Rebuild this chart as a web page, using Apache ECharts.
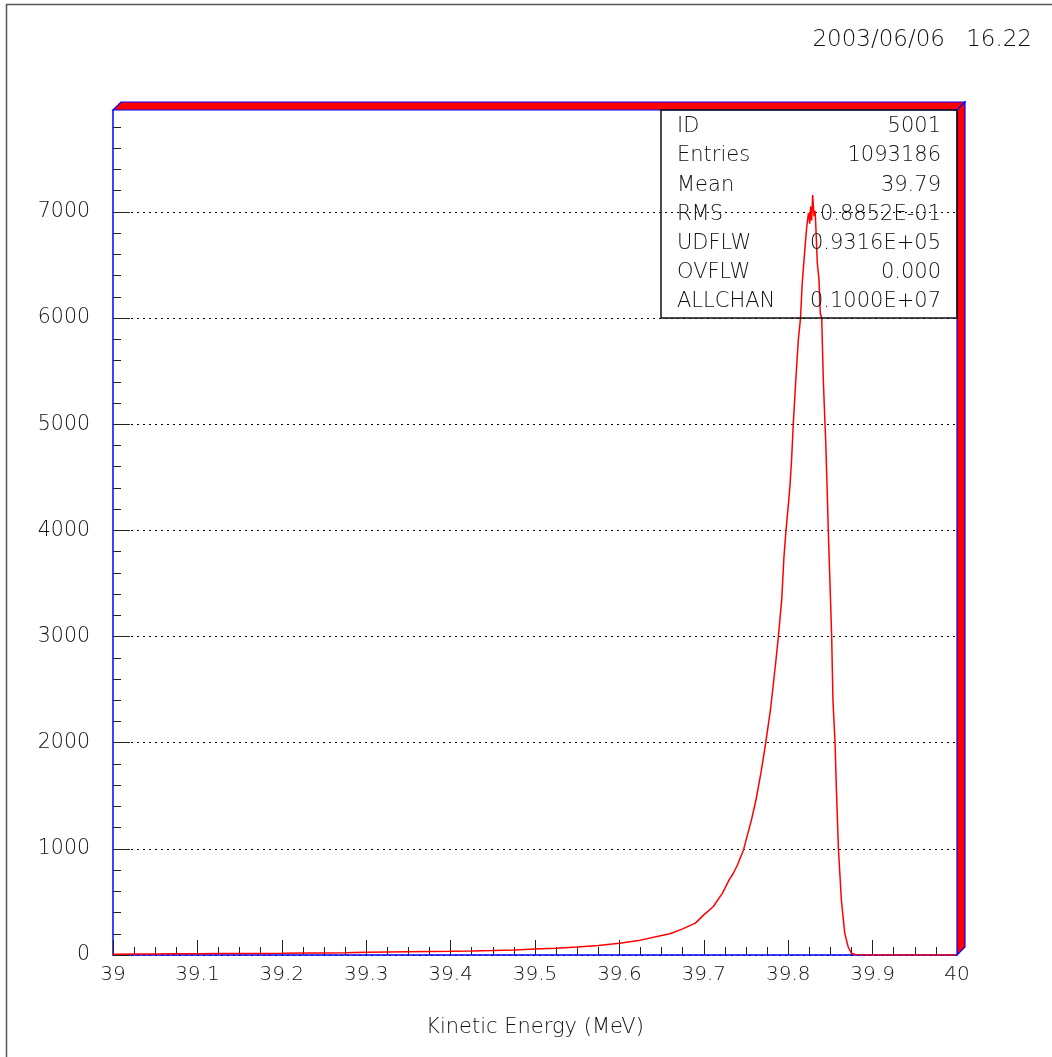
<!DOCTYPE html>
<html>
<head>
<meta charset="utf-8">
<script src="https://cdn.jsdelivr.net/npm/echarts@6/dist/echarts.min.js"></script>
<style>
  html, body { margin: 0; padding: 0; background: #ffffff; }
  #chart { width: 1052px; height: 1057px; }
</style>
</head>
<body>
<div id="chart"></div>
<script>
// Histogram 5001: Kinetic Energy (MeV)
const energy = [
  39.000, 39.025, 39.050, 39.075, 39.100, 39.125, 39.150, 39.175, 39.200, 39.225,
  39.250, 39.275, 39.300, 39.325, 39.350, 39.375, 39.400, 39.425, 39.450, 39.475,
  39.500, 39.525, 39.550, 39.575, 39.600, 39.625, 39.650, 39.660, 39.675, 39.690,
  39.700, 39.711, 39.722, 39.730, 39.735, 39.740, 39.747, 39.7567, 39.7618, 39.7678,
  39.7733, 39.7792, 39.7851, 39.7883, 39.7923, 39.795, 39.7974, 39.800,
  39.802, 39.804, 39.806, 39.809, 39.812, 39.8146, 39.8166, 39.820, 39.822, 39.824,
  39.8255, 39.8266, 39.8278, 39.829, 39.8306, 39.8318, 39.8326, 39.8345, 39.8365, 39.838, 39.8397, 39.8416, 39.8436,
  39.8444, 39.8456, 39.8475, 39.8495, 39.8515, 39.853, 39.8555, 39.857, 39.8595, 39.863,
  39.867, 39.871, 39.875, 39.880, 39.900, 40.000
];
const counts = [
  8, 9, 10, 11, 12, 13, 14, 15, 16, 18,
  20, 22, 25, 28, 31, 33, 35, 38, 42, 47,
  56, 63, 75, 89, 110, 140, 183, 200, 246, 300,
  378, 455, 580, 707, 770, 850, 990, 1280, 1460, 1720,
  1995, 2324, 2748, 2996, 3345, 3753, 4000, 4224,
  4412, 4664, 5000, 5417, 5794, 6000, 6328, 6673, 6862, 6990,
  6890, 7050, 6920, 7160, 6960, 7010, 6894, 6517, 6360, 6046, 6000, 5417, 5000,
  4852, 4538, 4000, 3502, 3000, 2402, 2000, 1586, 1000, 518,
  204, 78, 16, 3, 0, 0
];
const yTickValues = [0, 1000, 2000, 3000, 4000, 5000, 6000, 7000];
const yMinorValues = [200, 400, 600, 800, 1200, 1400, 1600, 1800, 2200, 2400, 2600, 2800,
  3200, 3400, 3600, 3800, 4200, 4400, 4600, 4800, 5200, 5400, 5600, 5800,
  6200, 6400, 6600, 6800, 7200, 7400, 7600, 7800];
const xTickLabels = ['39', '39.1', '39.2', '39.3', '39.4', '39.5', '39.6', '39.7', '39.8', '39.9', '40'];
const statsLabels = ['ID', 'Entries', 'Mean', 'RMS', 'UDFLW', 'OVFLW', 'ALLCHAN'];
const statsValues = ['5001', '1093186', '39.79', '0.8852E-01', '0.9316E+05', '0.000', '0.1000E+07'];
const xTitle = 'Kinetic Energy (MeV)';
const dateParts = ['2003/06/06', '16.22'];

const FONT = '"DejaVu Sans", "Liberation Sans", sans-serif';
const TXT = '#111111';
const X_MIN = 39, X_MAX = 40, Y_MIN = 0, Y_MAX = 7960;

const chart = echarts.init(document.getElementById('chart'), null, { renderer: 'canvas' });

const option = {
  animation: false,
  backgroundColor: '#ffffff',
  grid: { left: 113, right: 95, top: 110, bottom: 102, containLabel: false },
  xAxis: [
    {
      type: 'value', min: X_MIN, max: X_MAX, interval: 0.1,
      position: 'bottom',
      name: xTitle, nameLocation: 'middle', nameGap: 62,
      nameTextStyle: { fontFamily: FONT, fontSize: 21, fontWeight: 200, color: TXT },
      axisLine: { show: true, lineStyle: { color: '#0000ff', width: 1.5 } },
      axisTick: { show: true, inside: true, length: 15, lineStyle: { color: '#222', width: 1 } },
      axisLabel: {
        show: true, margin: 10, fontFamily: FONT, fontSize: 20, fontWeight: 200, color: TXT,
        formatter: v => xTickLabels[Math.round((v - X_MIN) * 10)] || ''
      },
      splitLine: { show: false }
    },
    {
      type: 'value', min: X_MIN, max: X_MAX, interval: 0.025,
      position: 'bottom',
      axisLine: { show: false },
      axisTick: { show: true, inside: true, length: 8, lineStyle: { color: '#222', width: 1 } },
      axisLabel: { show: false },
      splitLine: { show: false }
    }
  ],
  yAxis: [
    {
      type: 'value', min: Y_MIN, max: Y_MAX, interval: 1000,
      position: 'left',
      axisLine: { show: true, lineStyle: { color: '#0000ff', width: 1.5 } },
      axisTick: { show: true, inside: true, length: 17, customValues: yTickValues, lineStyle: { color: '#222', width: 1 } },
      axisLabel: {
        show: true, margin: 23, fontFamily: FONT, fontSize: 20.5, fontWeight: 200, color: TXT,
        customValues: yTickValues,
        formatter: v => String(v)
      },
      splitLine: { show: true, lineStyle: { color: '#000', width: 1, type: [2, 4] } }
    },
    {
      type: 'value', min: Y_MIN, max: Y_MAX,
      position: 'left',
      axisLine: { show: false },
      axisTick: { show: true, inside: true, length: 8, customValues: yMinorValues, lineStyle: { color: '#222', width: 1 } },
      axisLabel: { show: false },
      splitLine: { show: false }
    }
  ],
  series: [
    {
      type: 'line',
      xAxisIndex: 0, yAxisIndex: 0,
      data: energy.map((e, i) => [e, counts[i]]),
      showSymbol: false,
      symbol: 'none',
      lineStyle: { color: '#ff0000', width: 1.5 },
      z: 3,
      clip: true
    }
  ]
};

chart.setOption(option);

// decorations: 3D frame, stats box, page border, date
const pTL = chart.convertToPixel({ xAxisIndex: 0, yAxisIndex: 0 }, [X_MIN, Y_MAX]);
const pBR = chart.convertToPixel({ xAxisIndex: 0, yAxisIndex: 0 }, [X_MAX, Y_MIN]);
const xL = pTL[0], yT = pTL[1], xR = pBR[0], yB = pBR[1];
const d = 8;

const graphics = [];
// page border (left & top)
graphics.push({ type: 'line', shape: { x1: 6.5, y1: 4, x2: 6.5, y2: 1057 }, style: { stroke: '#555', lineWidth: 1.5 }, z: 10 });
graphics.push({ type: 'line', shape: { x1: 6, y1: 4.5, x2: 1052, y2: 4.5 }, style: { stroke: '#555', lineWidth: 1.5 }, z: 10 });
// date
graphics.push({
  type: 'text', x: 945, y: 40, z: 10,
  style: { text: dateParts[0], fill: TXT, font: '200 23px ' + FONT, textAlign: 'right', textVerticalAlign: 'middle' }
});
graphics.push({
  type: 'text', x: 1032, y: 40, z: 10,
  style: { text: dateParts[1], fill: TXT, font: '200 23px ' + FONT, textAlign: 'right', textVerticalAlign: 'middle' }
});
// top band
graphics.push({
  type: 'polygon', z: 20,
  shape: { points: [[xL, yT], [xL + d, yT - d], [xR + d, yT - d], [xR, yT]] },
  style: { fill: '#ff0000', stroke: '#0000ff', lineWidth: 1.2 }
});
// right band
graphics.push({
  type: 'polygon', z: 20,
  shape: { points: [[xR, yT], [xR + d, yT - d], [xR + d, yB - d], [xR, yB]] },
  style: { fill: '#ff0000', stroke: '#0000ff', lineWidth: 1.2 }
});
// stats box
const boxW = 296, boxH = 208;
const bx = xR - boxW, by = yT;
graphics.push({
  type: 'rect', z: 21,
  shape: { x: bx, y: by, width: boxW, height: boxH },
  style: { fill: 'none', stroke: '#111', lineWidth: 1.5 }
});
statsLabels.forEach((lab, i) => {
  const cy = by + 16.7 + i * 29.2;
  graphics.push({
    type: 'text', x: bx + 16, y: cy, z: 22,
    style: { text: lab, fill: TXT, font: '200 21px ' + FONT, textAlign: 'left', textVerticalAlign: 'middle' }
  });
  graphics.push({
    type: 'text', x: xR - 16, y: cy, z: 22,
    style: { text: statsValues[i], fill: TXT, font: '200 21px ' + FONT, textAlign: 'right', textVerticalAlign: 'middle' }
  });
});

chart.setOption({ graphic: { elements: graphics } });
</script>
</body>
</html>
